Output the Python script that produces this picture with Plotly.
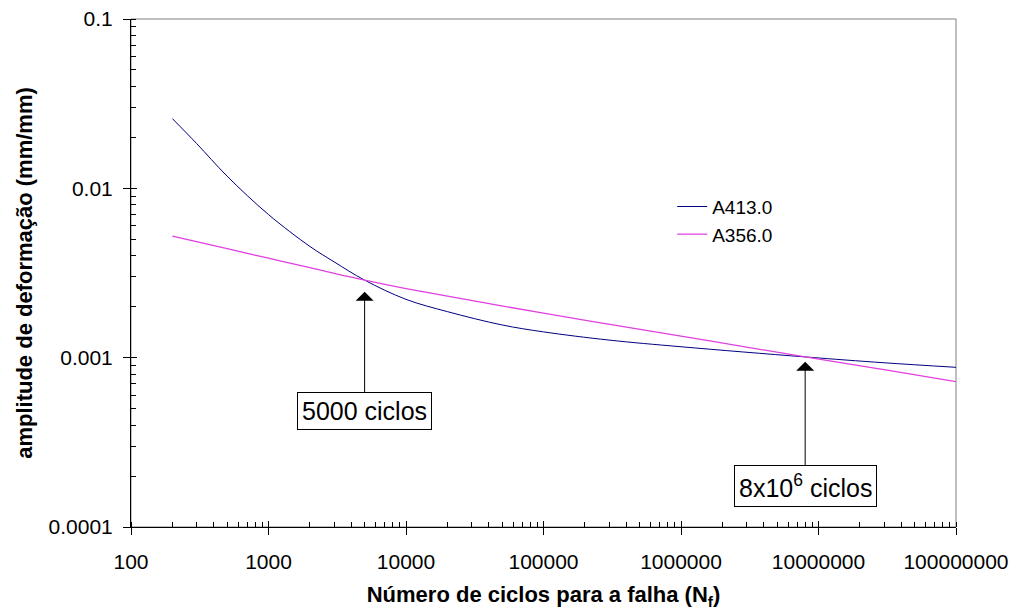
import math
import plotly.graph_objects as go

# Data
cycles_a413 = [200, 300, 500, 1000, 2000, 3000, 5000, 10000, 20000, 50000, 100000, 300000, 1000000, 8000000, 30000000, 100000000]
strain_a413 = [0.0258, 0.0184, 0.0118, 0.0070, 0.00454, 0.00368, 0.00287, 0.00221, 0.00187, 0.00156, 0.00142, 0.00127, 0.00116, 0.00101, 0.000933, 0.000877]

cycles_a356 = [200, 500, 1000, 2000, 5000, 10000, 100000, 1000000, 8000000, 30000000, 100000000]
strain_a356 = [0.00522, 0.00440, 0.00387, 0.00340, 0.00287, 0.00256, 0.00183, 0.00134, 0.00101, 0.00085, 0.000721]

series_names = ["A413.0", "A356.0"]
series_colors = ["#000080", "#E040E0"]

x_tick_vals = [100, 1000, 10000, 100000, 1000000, 10000000, 100000000]
x_tick_text = ["100", "1000", "10000", "100000", "1000000", "10000000", "100000000"]
y_tick_vals = [0.0001, 0.001, 0.01, 0.1]
y_tick_text = ["0.0001", "0.001", "0.01", "0.1"]

annot_points = [(5000, 0.00245, "5000 ciclos"), (8000000, 0.000946, "8x10<sup>6</sup> ciclos")]

FONT = "Liberation Sans, Arial, sans-serif"

fig = go.Figure()
fig.add_trace(go.Scatter(x=cycles_a413, y=strain_a413, mode="lines", name=series_names[0],
                         line=dict(color=series_colors[0], width=1, shape="spline", smoothing=1.0)))
fig.add_trace(go.Scatter(x=cycles_a356, y=strain_a356, mode="lines", name=series_names[1],
                         line=dict(color=series_colors[1], width=1.3, shape="spline", smoothing=1.0)))
# invisible trace for overlay axes (inner half of crossing major ticks)
fig.add_trace(go.Scatter(x=[100, 100000000], y=[0.0001, 0.1], xaxis="x2", yaxis="y2",
                         mode="markers", marker=dict(opacity=0), showlegend=False, hoverinfo="skip"))

xr = [2, 8]
yr = [-4, -1]

fig.update_layout(
    width=1018, height=610,
    margin=dict(l=131, r=62, t=19, b=83, autoexpand=False),
    paper_bgcolor="white", plot_bgcolor="white",
    font=dict(family=FONT, color="black", size=20),
    showlegend=True,
    legend=dict(x=0.656, y=0.668, xanchor="left", yanchor="top", bgcolor="rgba(0,0,0,0)",
                font=dict(size=19, family=FONT), tracegroupgap=0, itemwidth=30),
    xaxis=dict(type="log", range=xr, tickvals=x_tick_vals, ticktext=x_tick_text,
               ticks="outside", ticklen=7, tickcolor="black", tickwidth=1,
               showline=True, linecolor="black", linewidth=1, showgrid=False, zeroline=False,
               tickfont=dict(size=21, family=FONT), ticklabelstandoff=9,
               minor=dict(ticks="inside", ticklen=5, tickcolor="black", dtick="D1", showgrid=False),
               title=dict(text="<b>Número de ciclos para a falha (N<sub>f</sub>)</b>",
                          font=dict(size=22, family=FONT), standoff=15)),
    yaxis=dict(type="log", range=yr, tickvals=y_tick_vals, ticktext=y_tick_text,
               ticks="outside", ticklen=7, tickcolor="black", tickwidth=1,
               showline=True, linecolor="black", linewidth=1, showgrid=False, zeroline=False,
               tickfont=dict(size=21, family=FONT), ticklabelstandoff=6,
               minor=dict(ticks="inside", ticklen=5, tickcolor="black", dtick="D1", showgrid=False),
               title=dict(text="<b>amplitude de deformação (mm/mm)</b>",
                          font=dict(size=22, family=FONT), standoff=9)),
    xaxis2=dict(type="log", range=xr, overlaying="x", anchor="y", side="bottom",
                tickvals=x_tick_vals, showticklabels=False, ticks="inside", ticklen=6,
                tickcolor="black", showline=False, showgrid=False, zeroline=False),
    yaxis2=dict(type="log", range=yr, overlaying="y", anchor="x", side="left",
                tickvals=y_tick_vals, showticklabels=False, ticks="inside", ticklen=6,
                tickcolor="black", showline=False, showgrid=False, zeroline=False),
    shapes=[dict(type="rect", xref="paper", yref="paper", x0=0, x1=1, y0=0, y1=1,
                 line=dict(color="#808080", width=1), layer="below")],
)

offsets = [(0, 119), (0, 124)]
for (px, py, txt), (ax, ay) in zip(annot_points, offsets):
    fig.add_annotation(x=math.log10(px), y=math.log10(py), xref="x", yref="y", text=txt, showarrow=True,
                       arrowhead=1, arrowsize=3, arrowwidth=1, arrowcolor="black",
                       ax=ax, ay=ay, bordercolor="black", borderwidth=1, borderpad=4,
                       bgcolor="white", font=dict(size=25, family=FONT, color="black"))

fig.write_html("out.html")
